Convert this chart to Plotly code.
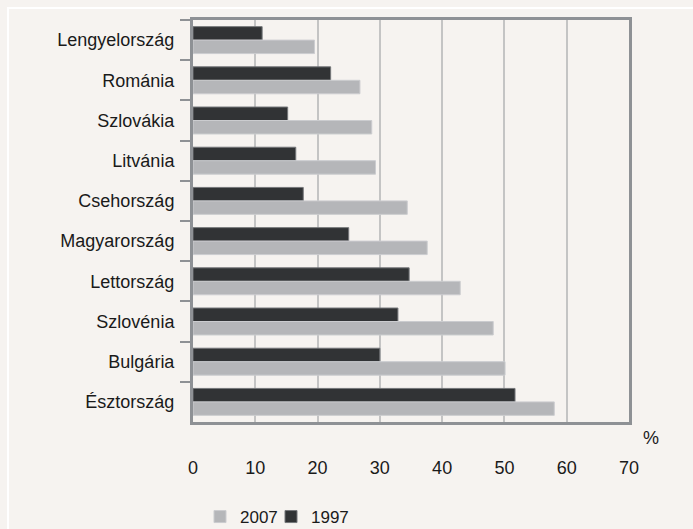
import plotly.graph_objects as go

countries = ["Lengyelország", "Románia", "Szlovákia", "Litvánia", "Csehország",
             "Magyarország", "Lettország", "Szlovénia", "Bulgária", "Észtország"]
values_1997 = [11.1, 22.1, 15.2, 16.5, 17.7, 25.0, 34.7, 32.9, 30.0, 51.7]
values_2007 = [19.5, 26.8, 28.7, 29.3, 34.4, 37.6, 42.9, 48.2, 50.1, 58.0]
x_ticks = [0, 10, 20, 30, 40, 50, 60, 70]

FONT = "Liberation Sans, Arial, sans-serif"
BG = "#f6f3f0"
AXIS = "#8e9195"
TXT = "#1a1a1a"

fig = go.Figure()
fig.add_trace(go.Bar(
    y=countries, x=values_1997, name="1997", orientation="h", legend="legend2",
    marker=dict(color="#313335", line=dict(color="#75777a", width=1)),
))
fig.add_trace(go.Bar(
    y=countries, x=values_2007, name="2007", orientation="h", legend="legend",
    marker=dict(color="#b5b6b9", line=dict(color="#cbcccf", width=1)),
))

legend_common = dict(orientation="h", xref="container", yref="container",
                     y=(529 - 517) / 529, xanchor="left", yanchor="middle",
                     bgcolor="rgba(0,0,0,0)",
                     font=dict(family=FONT, size=17, color=TXT))

fig.update_layout(
    width=693, height=529,
    paper_bgcolor=BG, plot_bgcolor=BG,
    margin=dict(l=193, r=64, t=20, b=107),
    barmode="group", bargap=0.33, bargroupgap=0,
    font=dict(family=FONT, size=18, color=TXT),
    showlegend=True,
    legend=dict(x=200 / 693, **legend_common),
    legend2=dict(x=271 / 693, **legend_common),
    xaxis=dict(range=[0, 70], tickvals=x_ticks, showgrid=True, gridcolor="#c4c4c4",
               gridwidth=2, showline=True, linecolor=AXIS, linewidth=3, mirror=True,
               ticks="", zeroline=False, ticklabelstandoff=27,
               tickfont=dict(family=FONT, size=18, color=TXT)),
    yaxis=dict(autorange="reversed", showline=True, linecolor=AXIS, linewidth=3,
               mirror=True, ticks="outside", tickson="boundaries", ticklen=10,
               tickwidth=2, tickcolor=AXIS, showgrid=False, ticklabelstandoff=12,
               tickfont=dict(family=FONT, size=18, color=TXT)),
    shapes=[dict(type="rect", xref="paper", yref="paper",
                 x0=(8 - 193) / 436, x1=(720 - 193) / 436,
                 y0=-(560 - 422) / 402, y1=(422 - 8) / 402,
                 line=dict(color="white", width=2), layer="below")],
    annotations=[dict(text="%", xref="paper", yref="paper", x=(651 - 193) / 436,
                      y=-(438 - 422) / 402, xanchor="center", yanchor="middle",
                      showarrow=False, font=dict(family=FONT, size=18, color=TXT))],
)

fig.write_html("out.html", config={"displayModeBar": False},
               post_script="document.body.style.margin='0';"
                           "document.body.style.background='#f6f3f0';")
